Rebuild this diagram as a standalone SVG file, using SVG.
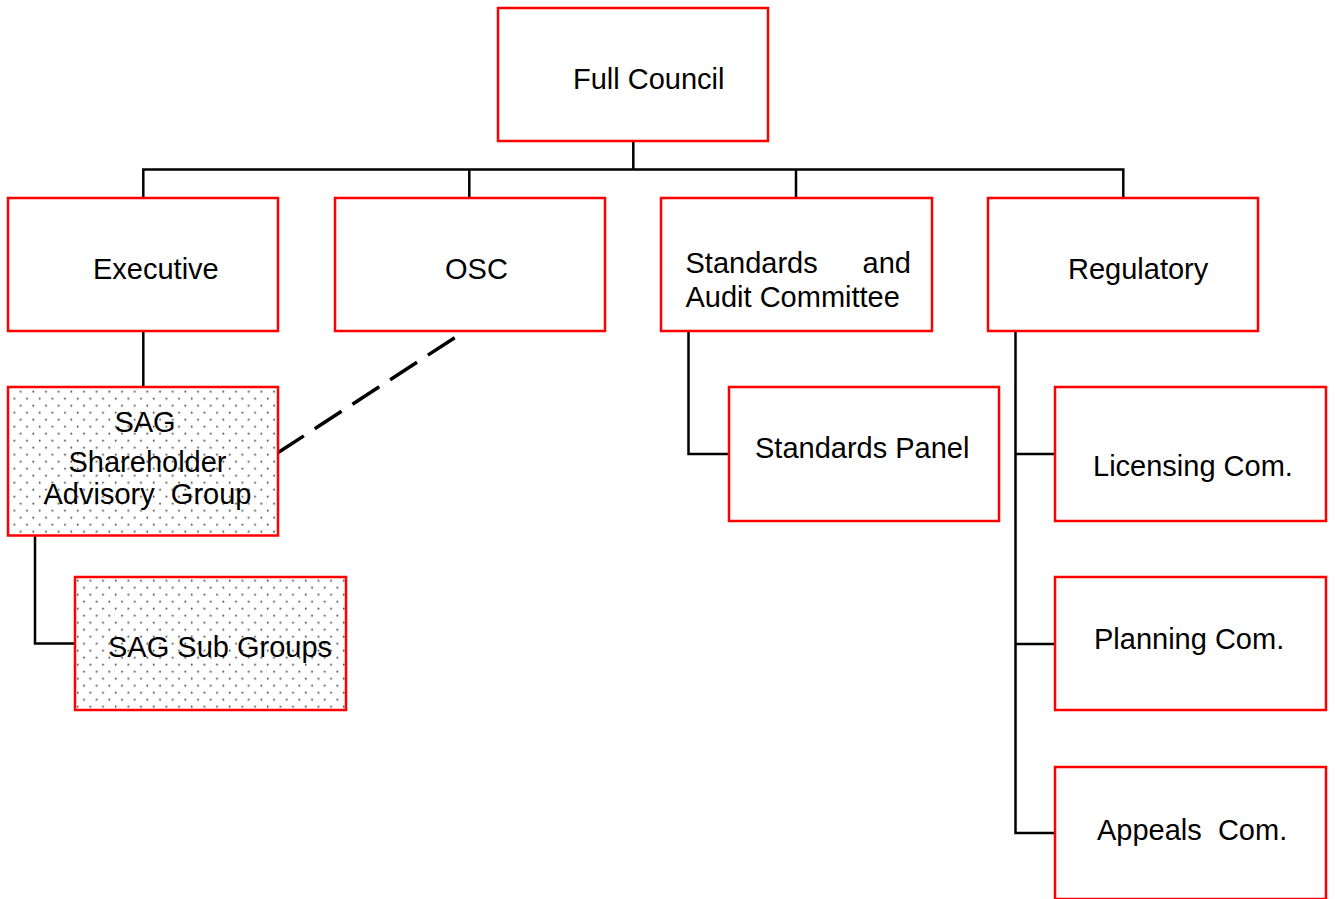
<svg xmlns="http://www.w3.org/2000/svg" width="1335" height="899" viewBox="0 0 1335 899">
<style>
.box{fill:#fff;stroke:#ff0000;stroke-width:2.5}
.dot{fill:url(#dots);stroke:#ff0000;stroke-width:2.5}
.t{font-family:"Liberation Sans",Arial,sans-serif;font-size:29px;fill:#000;white-space:pre}
.c{fill:none;stroke:#000;stroke-width:2.5}
.d{fill:none;stroke:#000;stroke-width:3.5;stroke-dasharray:32 13}
</style>
<defs>
<pattern id="dots" patternUnits="userSpaceOnUse" x="17.5" y="388.2" width="12.67" height="14">
<rect width="12.67" height="14" fill="#fff"/>
<circle cx="3.17" cy="3.5" r="0.95" fill="#444"/>
<circle cx="9.5" cy="10.5" r="0.95" fill="#444"/>
</pattern>
</defs>
<rect width="1335" height="899" fill="#fff"/>
<g id="connectors">
<path class="c" d="M633.3 141V169.5M143.3 169.5H1123.3M143.3 168.3V198M469.3 168.3V198M796 168.3V198M1123.3 168.3V198"/>
<path class="c" d="M143.3 331V387"/>
<path class="c" d="M35 536V643.5H75"/>
<path class="c" d="M688.5 331V454H729"/>
<path class="c" d="M1015.5 331V833H1055M1015.5 454H1055M1015.5 644H1055"/>
<path class="d" d="M277 453.3L457.3 336"/>
</g>
<g id="full-council">
<rect class="box" x="498" y="8" width="270" height="133"/>
<text class="t" x="573" y="89">Full Council</text>
</g>
<g id="executive">
<rect class="box" x="8" y="198" width="270" height="133"/>
<text class="t" x="93" y="279">Executive</text>
</g>
<g id="osc">
<rect class="box" x="335" y="198" width="270" height="133"/>
<text class="t" x="445" y="279">OSC</text>
</g>
<g id="standards-audit">
<rect class="box" x="661" y="198" width="271" height="133"/>
<text class="t" x="685.5" y="273">Standards</text>
<text class="t" x="911" y="273" text-anchor="end">and</text>
<text class="t" x="685.5" y="306.5">Audit Committee</text>
</g>
<g id="regulatory">
<rect class="box" x="988" y="198" width="270" height="133"/>
<text class="t" x="1068" y="279">Regulatory</text>
</g>
<g id="sag">
<rect class="dot" x="8" y="387" width="270" height="148.5"/>
<text class="t" x="145" y="431.5" text-anchor="middle">SAG</text>
<text class="t" x="147.5" y="471.5" text-anchor="middle">Shareholder</text>
<text class="t" x="147.5" y="504" text-anchor="middle">Advisory  Group</text>
</g>
<g id="sag-sub-groups">
<rect class="dot" x="75" y="577" width="271" height="133"/>
<text class="t" x="108" y="656.5">SAG Sub Groups</text>
</g>
<g id="standards-panel">
<rect class="box" x="729" y="387" width="270" height="134"/>
<text class="t" x="755" y="457.5">Standards Panel</text>
</g>
<g id="licensing">
<rect class="box" x="1055" y="387" width="271" height="134"/>
<text class="t" x="1093" y="475.5">Licensing Com.</text>
</g>
<g id="planning">
<rect class="box" x="1055" y="577" width="271" height="133"/>
<text class="t" x="1094" y="649">Planning Com.</text>
</g>
<g id="appeals">
<rect class="box" x="1055" y="767" width="271" height="132"/>
<text class="t" x="1097" y="840">Appeals  Com.</text>
</g>
</svg>
